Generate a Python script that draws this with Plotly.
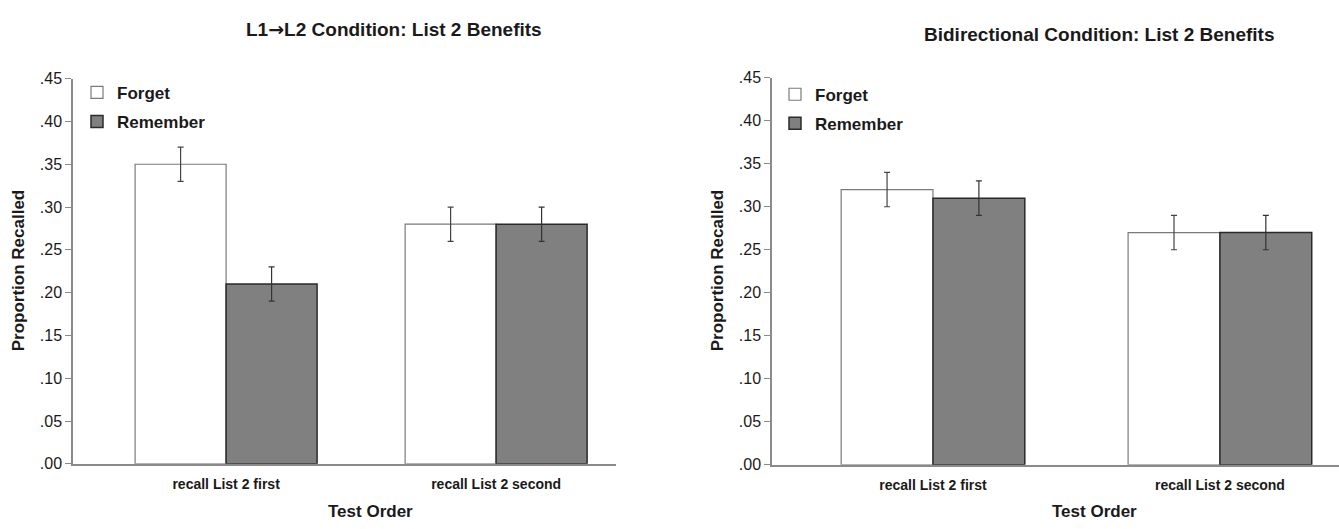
import plotly.graph_objects as go

categories = ["recall List 2 first", "recall List 2 second"]
series_names = ["Forget", "Remember"]

l1l2_forget = [0.35, 0.28]
l1l2_remember = [0.21, 0.28]
l1l2_forget_err = [0.02, 0.02]
l1l2_remember_err = [0.02, 0.02]

bidir_forget = [0.32, 0.27]
bidir_remember = [0.31, 0.27]
bidir_forget_err = [0.02, 0.02]
bidir_remember_err = [0.02, 0.02]

y_tick_vals = [0.00, 0.05, 0.10, 0.15, 0.20, 0.25, 0.30, 0.35, 0.40, 0.45]
y_tick_text = [".00", ".05", ".10", ".15", ".20", ".25", ".30", ".35", ".40", ".45"]

panel_titles = ["L1<span style='font-family:DejaVu Sans'>\u2192</span>L2 Condition: List 2 Benefits",
                "Bidirectional Condition: List 2 Benefits"]
x_title = "Test Order"
y_title = "Proportion Recalled"

W, H = 1339, 529
FONT = "Liberation Sans, Arial, sans-serif"
xpos = list(range(len(categories)))

fig = go.Figure()

panels = [
    dict(f=l1l2_forget, r=l1l2_remember, fe=l1l2_forget_err, re=l1l2_remember_err,
         xa="x", ya="y", w=0.337, legend="legend"),
    dict(f=bidir_forget, r=bidir_remember, fe=bidir_forget_err, re=bidir_remember_err,
         xa="x2", ya="y2", w=0.32, legend="legend2"),
]

for p in panels:
    fig.add_trace(go.Bar(
        x=xpos, y=p["f"], name=series_names[0], xaxis=p["xa"], yaxis=p["ya"],
        width=p["w"], offset=-p["w"],
        marker=dict(color="white", line=dict(color="#7a7a7a", width=1.2)),
        error_y=dict(type="data", array=p["fe"], visible=True, color="#444444", thickness=1.2, width=3),
        legend=p["legend"], legendgroup=p["legend"] + "f",
    ))
    fig.add_trace(go.Bar(
        x=xpos, y=p["r"], name=series_names[1], xaxis=p["xa"], yaxis=p["ya"],
        width=p["w"], offset=0,
        marker=dict(color="#808080", line=dict(color="#2a2a2a", width=1.5)),
        error_y=dict(type="data", array=p["re"], visible=True, color="#333333", thickness=1.2, width=3),
        legend=p["legend"], legendgroup=p["legend"] + "r",
    ))

def px_x(v):
    return v / W

def px_y(v):
    return 1 - v / H

axis_common_y = dict(
    range=[0, 0.45], tickvals=y_tick_vals, ticktext=y_tick_text,
    showline=True, linecolor="#8a8a8a", linewidth=1.5, ticks="outside", ticklen=6,
    tickcolor="#8a8a8a", showgrid=False, zeroline=False,
    tickfont=dict(family=FONT, size=16, color="#1a1a1a"),
)
axis_common_x = dict(
    tickvals=xpos, ticktext=categories, showline=True, linecolor="#8a8a8a", linewidth=1.5,
    ticks="", showgrid=False, zeroline=False, ticklabelstandoff=7,
    tickfont=dict(family=FONT, size=14, color="#1a1a1a", weight="bold"),
)

fig.update_layout(
    width=W, height=H, margin=dict(l=0, r=0, t=0, b=0),
    paper_bgcolor="white", plot_bgcolor="white",
    barmode="overlay",
    xaxis=dict(domain=[px_x(73), px_x(616)], range=[-0.567, 1.444], anchor="y", **axis_common_x),
    yaxis=dict(domain=[px_y(471), px_y(73)], anchor="x", **axis_common_y),
    xaxis2=dict(domain=[px_x(772), 1.0], range=[-0.561, 1.415], anchor="y2", **axis_common_x),
    yaxis2=dict(domain=[px_y(472), px_y(72)], anchor="x2", **axis_common_y),
    legend=dict(x=px_x(77), y=px_y(69), xanchor="left", yanchor="top", bgcolor="rgba(0,0,0,0)",
                font=dict(family=FONT, size=17, color="#1a1a1a", weight="bold"),
                itemwidth=30, tracegroupgap=4, traceorder="grouped"),
    legend2=dict(x=px_x(775), y=px_y(71), xanchor="left", yanchor="top", bgcolor="rgba(0,0,0,0)",
                 font=dict(family=FONT, size=17, color="#1a1a1a", weight="bold"),
                 itemwidth=30, tracegroupgap=4, traceorder="grouped"),
    showlegend=True,
)

ann = []
for cx, cy, t in [(394, 22, panel_titles[0]), (1099, 27, panel_titles[1])]:
    ann.append(dict(x=px_x(cx), y=px_y(cy), xref="paper", yref="paper", text=t, showarrow=False,
                    xanchor="center", yanchor="middle",
                    font=dict(family=FONT, size=19, color="#1a1a1a", weight="bold")))
for cx in [370, 1094]:
    ann.append(dict(x=px_x(cx), y=px_y(520), xref="paper", yref="paper", text=x_title, showarrow=False,
                    xanchor="center", yanchor="middle",
                    font=dict(family=FONT, size=17, color="#1a1a1a", weight="bold")))
for cx in [18, 717]:
    ann.append(dict(x=px_x(cx), y=px_y(271), xref="paper", yref="paper", text=y_title, showarrow=False,
                    xanchor="center", yanchor="middle", textangle=-90,
                    font=dict(family=FONT, size=17, color="#1a1a1a", weight="bold")))
fig.update_layout(annotations=ann)

fig.write_html("out.html", config={"displayModeBar": False},
               post_script="document.body.style.margin='0px';document.body.style.overflow='hidden';")
